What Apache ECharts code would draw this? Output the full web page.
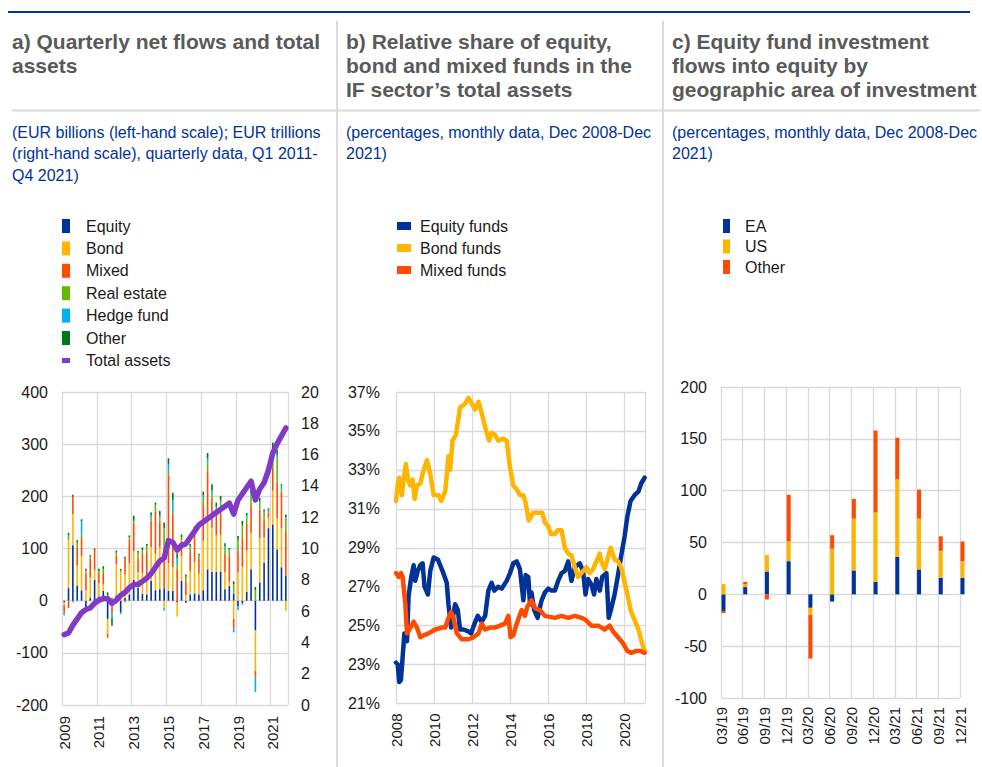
<!DOCTYPE html>
<html>
<head>
<meta charset="utf-8">
<title>Investment fund flows and asset shares</title>
<script src="https://cdn.jsdelivr.net/npm/echarts/dist/echarts.min.js"></script>
<style>
  html, body { margin: 0; padding: 0; background: #fff; }
  #chart { width: 982px; height: 767px; }
</style>
</head>
<body>
<div id="chart"></div>
<script>
// ---- a) quarterly net flows (EUR bn) and total assets (EUR tn), Q1 2009 - Q4 2021
const flowYears = [2009, 2010, 2011, 2012, 2013, 2014, 2015, 2016, 2017, 2018, 2019, 2020, 2021];
const equity = [-3,24,106,29,20,-19,5,40,8,19,-35,0,10,-22,5,12,40,25,13,12,38,20,22,24,19,19,-3,38,-4,12,14,12,20,60,55,55,56,22,28,13,-10,-5,17,60,-57,35,72,139,146,98,64,48];
const bond = [-6,92,60,38,65,20,40,18,25,12,-29,0,60,55,45,60,55,30,40,38,65,70,80,-14,53,45,-28,47,11,45,60,40,95,100,85,70,70,33,8,-35,55,65,80,70,-78,85,50,20,65,60,75,-20];
const mixed = [-14,-14,33,35,35,32,35,39,18,22,-7,-25,16,0,32,45,55,25,37,43,50,80,50,60,170,103,62,30,28,40,55,28,70,90,55,40,55,35,50,-18,40,55,50,55,-12,55,35,10,45,70,70,85];
const realEstate = [0,8,0,10,6,6,4,0,6,8,10,6,6,3,-3,4,3,12,7,12,5,14,8,55,5,0,8,7,7,8,8,7,12,15,10,10,8,13,8,18,22,25,12,15,20,12,12,5,20,45,5,25];
const hedge = [-5,2,-3,0,26,0,0,0,0,0,0,-8,0,-4,0,0,0,0,0,0,6,0,4,-5,14,26,12,0,0,0,2,0,5,8,6,5,4,2,4,-8,-8,-3,4,5,-28,3,3,0,7,6,8,2];
const otherFlows = [0,4,4,4,4,3,3,3,4,5,6,-15,4,3,2,4,10,3,5,4,5,4,8,11,12,14,9,5,4,4,4,3,7,10,12,8,8,5,3,6,7,8,5,7,6,7,3,3,20,10,2,5];
const totalAssets = [4.5,4.6,5.1,5.5,5.9,6.1,6.2,6.5,6.7,6.8,6.8,6.5,6.7,7.0,7.2,7.5,7.7,7.7,7.9,8.1,8.4,8.8,9.2,9.4,10.5,10.4,9.9,10.2,10.3,10.7,11.1,11.5,11.7,11.9,12.1,12.3,12.5,12.7,12.9,12.2,13.1,13.5,13.9,14.3,13.1,13.8,14.2,15.0,16.1,16.7,17.2,17.7];

const quarters = [];
flowYears.forEach(y => ['Q1', 'Q2', 'Q3', 'Q4'].forEach(q => quarters.push(y + ' ' + q)));

// ---- b) share in total assets (%), monthly, [year, value]
const equityFunds = [[2008.00,23.1],[2008.09,23.0],[2008.17,22.1],[2008.26,22.2],[2008.35,23.4],[2008.44,24.6],[2008.58,24.2],[2008.66,26.5],[2008.80,27.5],[2008.93,28.1],[2009.01,27.3],[2009.14,27.8],[2009.28,28.1],[2009.40,28.2],[2009.50,27.0],[2009.68,26.6],[2009.80,27.8],[2009.98,28.5],[2010.20,28.4],[2010.45,27.8],[2010.67,27.2],[2010.76,26.1],[2010.90,24.9],[2011.11,26.1],[2011.25,25.8],[2011.37,24.8],[2011.55,24.8],[2011.81,24.7],[2011.95,24.6],[2012.13,25.1],[2012.30,25.5],[2012.51,25.2],[2012.69,25.5],[2012.86,26.8],[2013.03,27.2],[2013.17,26.8],[2013.38,27.0],[2013.56,26.9],[2013.82,27.3],[2014.00,27.7],[2014.17,28.2],[2014.35,28.3],[2014.52,27.9],[2014.70,26.3],[2014.82,27.6],[2014.96,27.5],[2015.05,26.1],[2015.13,26.7],[2015.27,25.8],[2015.45,25.4],[2015.66,26.3],[2015.83,26.7],[2016.01,26.9],[2016.18,26.8],[2016.36,26.8],[2016.53,27.3],[2016.71,27.7],[2016.88,27.8],[2017.06,28.3],[2017.23,27.3],[2017.41,28.0],[2017.67,28.2],[2017.84,27.8],[2017.97,26.6],[2018.10,27.4],[2018.28,27.1],[2018.42,26.6],[2018.54,27.4],[2018.72,26.8],[2018.85,27.5],[2019.07,27.7],[2019.19,25.4],[2019.33,25.9],[2019.50,26.6],[2019.68,27.6],[2019.85,28.6],[2020.03,29.6],[2020.17,30.6],[2020.34,31.4],[2020.55,31.7],[2020.76,31.9],[2020.90,32.3],[2021.08,32.6]];
const bondFunds = [[2008.00,31.4],[2008.10,32.3],[2008.17,32.6],[2008.31,31.7],[2008.40,32.5],[2008.52,33.3],[2008.63,32.5],[2008.75,32.2],[2008.87,32.5],[2008.98,31.5],[2009.10,32.2],[2009.28,32.3],[2009.40,32.8],[2009.63,33.5],[2009.80,32.8],[2009.98,31.7],[2010.24,31.7],[2010.38,31.4],[2010.59,31.9],[2010.76,33.7],[2010.85,33.0],[2010.97,34.5],[2011.15,34.8],[2011.37,36.2],[2011.64,36.4],[2011.81,36.7],[2011.99,36.4],[2012.16,36.1],[2012.34,36.5],[2012.51,35.9],[2012.69,35.2],[2012.90,34.5],[2013.03,34.9],[2013.21,34.8],[2013.38,34.5],[2013.65,34.6],[2013.82,34.5],[2014.00,33.1],[2014.17,32.2],[2014.35,32.0],[2014.52,31.7],[2014.70,31.7],[2014.82,31.3],[2014.99,30.4],[2015.22,30.8],[2015.48,30.8],[2015.69,30.8],[2015.83,30.3],[2016.01,30.1],[2016.15,29.7],[2016.36,29.7],[2016.50,29.9],[2016.71,29.9],[2016.88,29.0],[2017.06,28.7],[2017.23,28.6],[2017.41,28.0],[2017.58,27.5],[2017.84,27.8],[2018.02,28.0],[2018.19,27.7],[2018.37,27.9],[2018.54,28.3],[2018.72,28.7],[2018.80,28.3],[2018.98,27.9],[2019.15,28.5],[2019.29,29.0],[2019.50,28.4],[2019.68,28.3],[2019.85,28.0],[2020.03,27.2],[2020.20,26.5],[2020.34,25.8],[2020.55,25.3],[2020.76,24.8],[2020.94,24.1],[2021.08,23.7]];
const mixedFunds = [[2008.00,27.7],[2008.14,27.5],[2008.26,27.7],[2008.35,27.5],[2008.49,26.1],[2008.58,24.6],[2008.70,24.8],[2008.93,25.2],[2009.10,24.9],[2009.28,24.4],[2009.45,24.5],[2009.71,24.6],[2010.06,24.8],[2010.41,24.9],[2010.59,24.9],[2010.76,25.4],[2010.90,25.7],[2011.02,25.4],[2011.20,24.6],[2011.46,24.3],[2011.81,24.3],[2012.07,24.4],[2012.34,24.6],[2012.51,25.1],[2012.69,24.8],[2012.95,24.9],[2013.21,24.9],[2013.47,25.0],[2013.73,25.1],[2013.91,25.5],[2014.03,24.4],[2014.17,24.5],[2014.35,25.1],[2014.61,25.8],[2014.78,25.5],[2014.92,26.0],[2015.13,26.3],[2015.31,25.9],[2015.57,25.8],[2015.83,25.5],[2016.36,25.4],[2016.71,25.5],[2017.06,25.4],[2017.41,25.5],[2017.76,25.4],[2017.97,25.3],[2018.28,25.0],[2018.63,25.0],[2018.98,24.8],[2019.24,25.0],[2019.42,24.7],[2019.68,24.4],[2019.94,24.1],[2020.17,23.7],[2020.38,23.6],[2020.64,23.7],[2020.87,23.7],[2021.08,23.6]];

// ---- c) equity fund flows into equity by area (quarter-end)
const periods = ['03/19','06/19','09/19','12/19','03/20','06/20','09/20','12/20','03/21','06/21','09/21','12/21'];
const flowsEA = [-16,7,22,32,-13,-7,23,12,36,24,16,16];
const flowsUS = [10,3,16,19,-7,44,50,67,75,49,26,16];
const flowsOther = [-2,2,-5,45,-42,13,19,79,40,28,14,19];

const FONT = '"Liberation Sans", Arial, Helvetica, sans-serif';
const BLUE = '#003299', YELLOW = '#ffb400', ORANGE = '#ff4b00', GREEN = '#65b800',
      CYAN = '#00b1ea', DKGREEN = '#007816', PURPLE = '#8139c6';
const GRID = '#d9d9d9', INK = '#1a1a1a';

// 8x14 box with a short bar in the middle, like a line sample
const LINE_ICON = 'path://M0,0L8,0L8,0.01L0,0.01Z M0,4.5L8,4.5L8,9.5L0,9.5Z M0,13.99L8,13.99L8,14L0,14Z';

const chart = echarts.init(document.getElementById('chart'), null, { renderer: 'svg' });

const yLabel = (margin) => ({ fontSize: 16, color: INK, fontFamily: FONT, margin });
const xLabel = (margin) => ({ fontSize: 15, color: INK, fontFamily: FONT, margin, rotate: 90 });
const split = { show: true, lineStyle: { color: GRID, width: 1.3 } };

const flowBar = (name, data, color) => ({
  name, type: 'bar', stack: 'flows', data, xAxisIndex: 0, yAxisIndex: 0,
  barWidth: 1.6, itemStyle: { color }
});
const shareLine = (name, data, color) => ({
  name, type: 'line', data, xAxisIndex: 1, yAxisIndex: 2,
  symbol: 'none', lineStyle: { color, width: 4.5, join: 'round', cap: 'round' }, itemStyle: { color }
});
const geoBar = (name, data, color) => ({
  name, type: 'bar', stack: 'geo', data, xAxisIndex: 2, yAxisIndex: 3,
  barWidth: 4, barGap: '25%', itemStyle: { color }
});

const legendText = (pad) => ({ fontSize: 16, color: INK, fontFamily: FONT, padding: [0, 0, 0, pad] });

const option = {
  animation: false,
  backgroundColor: '#fff',
  grid: [
    { left: 62, top: 392, width: 226, height: 313, outerBoundsMode: 'none' },
    { left: 396, top: 392, width: 249, height: 311.5, outerBoundsMode: 'none' },
    { left: 721, top: 387, width: 239, height: 311, outerBoundsMode: 'none' }
  ],
  xAxis: [
    {
      type: 'category', gridIndex: 0, data: quarters, boundaryGap: true,
      axisLine: { show: false, onZero: false }, axisTick: { show: false },
      axisLabel: Object.assign(xLabel(11), { interval: (i) => i % 8 === 0, formatter: (v) => v.slice(0, 4) }),
      splitLine: { show: true, interval: (i) => i % 8 === 0, lineStyle: { color: GRID, width: 1.3 } }
    },
    {
      type: 'value', gridIndex: 1, min: 2008, max: 2021.1, interval: 2,
      axisLine: { show: false, onZero: false }, axisTick: { show: false },
      axisLabel: Object.assign(xLabel(10), { showMaxLabel: false, formatter: (v) => String(v) }),
      splitLine: split
    },
    {
      type: 'category', gridIndex: 2, data: periods, boundaryGap: false,
      axisLine: { show: false, onZero: false }, axisTick: { show: false },
      axisLabel: Object.assign(xLabel(9), { interval: 0 }),
      splitLine: { show: true, interval: 0, lineStyle: { color: GRID, width: 1.3 } }
    }
  ],
  yAxis: [
    {
      type: 'value', gridIndex: 0, min: -200, max: 400, interval: 100,
      axisLine: { show: false }, axisTick: { show: false }, axisLabel: yLabel(14), splitLine: split
    },
    {
      type: 'value', gridIndex: 0, position: 'right', min: 0, max: 20, interval: 2,
      axisLine: { show: false }, axisTick: { show: false }, axisLabel: yLabel(13), splitLine: { show: false }
    },
    {
      type: 'value', gridIndex: 1, min: 21, max: 37, interval: 2,
      axisLine: { show: false }, axisTick: { show: false },
      axisLabel: Object.assign(yLabel(16), { formatter: (v) => v + '%' }), splitLine: split
    },
    {
      type: 'value', gridIndex: 2, min: -100, max: 200, interval: 50,
      axisLine: { show: false }, axisTick: { show: false }, axisLabel: yLabel(14), splitLine: split
    }
  ],
  legend: [
    {
      orient: 'vertical', left: 62, top: 218, padding: 0, itemWidth: 8, itemHeight: 14, itemGap: 6.4,
      selectedMode: false, textStyle: legendText(11),
      data: [
        { name: 'Equity', icon: 'rect', itemStyle: { color: BLUE } },
        { name: 'Bond', icon: 'rect', itemStyle: { color: YELLOW } },
        { name: 'Mixed', icon: 'rect', itemStyle: { color: ORANGE } },
        { name: 'Real estate', icon: 'rect', itemStyle: { color: GREEN } },
        { name: 'Hedge fund', icon: 'rect', itemStyle: { color: CYAN } },
        { name: 'Other', icon: 'rect', itemStyle: { color: DKGREEN } },
        { name: 'Total assets', icon: LINE_ICON, itemStyle: { color: PURPLE } }
      ]
    },
    {
      orient: 'vertical', left: 397, top: 218, padding: 0, itemWidth: 14, itemHeight: 8, itemGap: 6,
      selectedMode: false, textStyle: legendText(4),
      data: [
        { name: 'Equity funds', icon: 'rect', itemStyle: { color: BLUE } },
        { name: 'Bond funds', icon: 'rect', itemStyle: { color: YELLOW } },
        { name: 'Mixed funds', icon: 'rect', itemStyle: { color: ORANGE } }
      ]
    },
    {
      orient: 'vertical', left: 723, top: 218, padding: 0, itemWidth: 7, itemHeight: 14, itemGap: 4.5,
      selectedMode: false, textStyle: legendText(10),
      data: [
        { name: 'EA', icon: 'rect', itemStyle: { color: BLUE } },
        { name: 'US', icon: 'rect', itemStyle: { color: YELLOW } },
        { name: 'Other', icon: 'rect', itemStyle: { color: ORANGE } }
      ]
    }
  ],
  graphic: [
    { type: 'line', silent: true, shape: { x1: 8, y1: 12, x2: 970, y2: 12 }, style: { stroke: BLUE, lineWidth: 2 } },
    { type: 'line', silent: true, shape: { x1: 12, y1: 110.5, x2: 980, y2: 110.5 }, style: { stroke: GRID, lineWidth: 2 } },
    { type: 'line', silent: true, shape: { x1: 337, y1: 21, x2: 337, y2: 767 }, style: { stroke: GRID, lineWidth: 1.8 } },
    { type: 'line', silent: true, shape: { x1: 663, y1: 21, x2: 663, y2: 767 }, style: { stroke: GRID, lineWidth: 1.8 } },
    {
      type: 'text', silent: true, x: 12, y: 29.7,
      style: { text: 'a) Quarterly net flows and total\nassets', fill: '#595959', fontSize: 21, fontWeight: 'bold', fontFamily: FONT, lineHeight: 24, verticalAlign: 'top' }
    },
    {
      type: 'text', silent: true, x: 346, y: 29.7,
      style: { text: 'b) Relative share of equity,\nbond and mixed funds in the\nIF sector\u2019s total assets', fill: '#595959', fontSize: 21, fontWeight: 'bold', fontFamily: FONT, lineHeight: 24, verticalAlign: 'top' }
    },
    {
      type: 'text', silent: true, x: 672, y: 29.7,
      style: { text: 'c) Equity fund investment\nflows into equity by\ngeographic area of investment', fill: '#595959', fontSize: 21, fontWeight: 'bold', fontFamily: FONT, lineHeight: 24, verticalAlign: 'top' }
    },
    {
      type: 'text', silent: true, x: 12, y: 122,
      style: { text: '(EUR billions (left-hand scale); EUR trillions\n(right-hand scale), quarterly data, Q1 2011-\nQ4 2021)', fill: BLUE, fontSize: 16, fontFamily: FONT, lineHeight: 21.3, verticalAlign: 'top' }
    },
    {
      type: 'text', silent: true, x: 346, y: 122,
      style: { text: '(percentages, monthly data, Dec 2008-Dec\n2021)', fill: BLUE, fontSize: 16, fontFamily: FONT, lineHeight: 21.3, verticalAlign: 'top' }
    },
    {
      type: 'text', silent: true, x: 672, y: 122,
      style: { text: '(percentages, monthly data, Dec 2008-Dec\n2021)', fill: BLUE, fontSize: 16, fontFamily: FONT, lineHeight: 21.3, verticalAlign: 'top' }
    }
  ],
  series: [
    flowBar('Equity', equity, BLUE),
    flowBar('Bond', bond, YELLOW),
    flowBar('Mixed', mixed, ORANGE),
    flowBar('Real estate', realEstate, GREEN),
    flowBar('Hedge fund', hedge, CYAN),
    flowBar('Other', otherFlows, DKGREEN),
    {
      name: 'Total assets', type: 'line', data: totalAssets, xAxisIndex: 0, yAxisIndex: 1,
      symbol: 'none', lineStyle: { color: PURPLE, width: 5.5, join: 'round', cap: 'round' }, itemStyle: { color: PURPLE }
    },
    shareLine('Equity funds', equityFunds, BLUE),
    shareLine('Bond funds', bondFunds, YELLOW),
    shareLine('Mixed funds', mixedFunds, ORANGE),
    // empty stack that pushes the real bars just right of each gridline
    { name: 'spacer', type: 'bar', stack: 'spacer', data: [], xAxisIndex: 2, yAxisIndex: 3, barWidth: 4, barGap: '25%' },
    geoBar('EA', flowsEA, BLUE),
    geoBar('US', flowsUS, YELLOW),
    geoBar('Other', flowsOther, ORANGE)
  ]
};

chart.setOption(option);
</script>
</body>
</html>
